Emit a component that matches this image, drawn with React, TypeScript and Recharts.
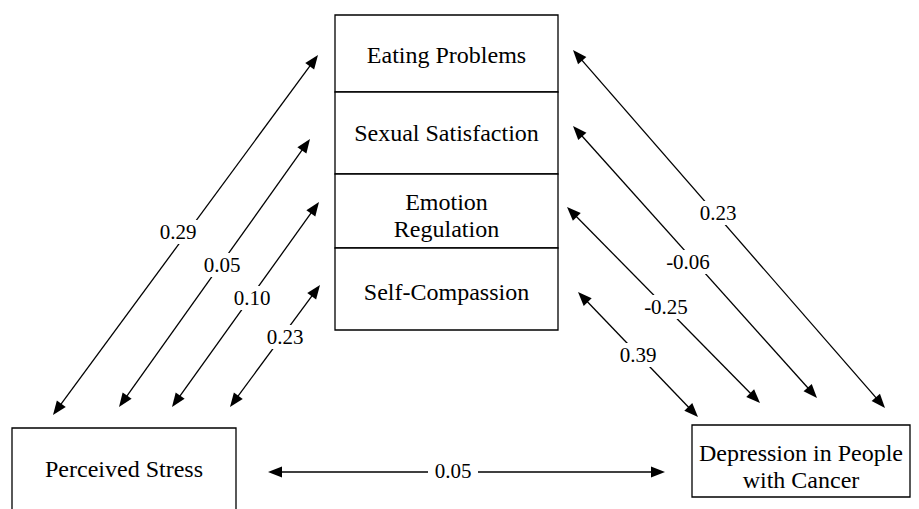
import { ReferenceArea, ReferenceLine, Scatter, ScatterChart, XAxis, YAxis } from "recharts";

// Variables and path coefficients
const mediators = ["Eating Problems", "Sexual Satisfaction", "Emotion\nRegulation", "Self-Compassion"];
const predictor = "Perceived Stress";
const outcome = "Depression in People\nwith Cancer";
const stressCoefs = ["0.29", "0.05", "0.10", "0.23"];
const depressionCoefs = ["0.23", "-0.06", "-0.25", "0.39"];
const directCoef = "0.05";

// Layout (diagram units = pixels of the 919x509 canvas)
const mediatorBands = [
  [15, 92],
  [92, 174],
  [174, 248],
  [248, 330],
];
const mediatorX = [335, 558];
const mediatorTextY = [55, 133, 215, 292];
const predictorBox = { x1: 12, x2: 236, y1: 428, y2: 515 };
const outcomeBox = { x1: 692, x2: 910, y1: 425, y2: 497 };
const predictorTextY = 469;
const outcomeTextY = 466;

const leftArrows = [
  [[53, 415], [318, 55]],
  [[119, 407], [310, 139]],
  [[172, 407], [319, 202]],
  [[230, 407], [320, 285]],
];
const leftLabelPos = [
  [178, 232],
  [222, 265],
  [252, 298],
  [285, 337],
];
const rightArrows = [
  [[573, 50], [885, 408]],
  [[573, 126], [817, 398]],
  [[567, 207], [760, 403]],
  [[578, 292], [698, 417]],
];
const rightLabelPos = [
  [718, 213],
  [688, 262],
  [666, 307],
  [638, 355],
];
const directArrow = [[268, 472], [665, 472]];
const directLabelPos = [453, 471];

const FONT = "Liberation Serif, serif";

const boxTexts = [
  ...mediators.map((name, i) => ({ x: (mediatorX[0] + mediatorX[1]) / 2, y: mediatorTextY[i], text: name })),
  { x: (predictorBox.x1 + predictorBox.x2) / 2, y: predictorTextY, text: predictor },
  { x: (outcomeBox.x1 + outcomeBox.x2) / 2, y: outcomeTextY, text: outcome },
];

const coefLabels = [
  ...stressCoefs.map((c, i) => ({ x: leftLabelPos[i][0], y: leftLabelPos[i][1], text: c })),
  ...depressionCoefs.map((c, i) => ({ x: rightLabelPos[i][0], y: rightLabelPos[i][1], text: c })),
  { x: directLabelPos[0], y: directLabelPos[1], text: directCoef },
];

const arrows = [...leftArrows, ...rightArrows, directArrow];

const ArrowShape = (props: any) => {
  const { x1, y1, x2, y2 } = props;
  const dx = x2 - x1;
  const dy = y2 - y1;
  const len = Math.hypot(dx, dy) || 1;
  const ux = dx / len;
  const uy = dy / len;
  const head = 14;
  const half = 5.5;
  const tri = (tx: number, ty: number, dx: number, dy: number) => {
    const bx = tx - dx * head;
    const by = ty - dy * head;
    return `${tx},${ty} ${bx - dy * half},${by + dx * half} ${bx + dy * half},${by - dx * half}`;
  };
  return (
    <g>
      <line
        x1={x1 + ux * head * 0.7}
        y1={y1 + uy * head * 0.7}
        x2={x2 - ux * head * 0.7}
        y2={y2 - uy * head * 0.7}
        stroke="#000"
        strokeWidth={1.3}
      />
      <polygon points={tri(x1, y1, -ux, -uy)} fill="#000" />
      <polygon points={tri(x2, y2, ux, uy)} fill="#000" />
    </g>
  );
};

const BoxText = (props: any) => {
  const { cx, cy, payload } = props;
  const lines = String(payload.text).split("\n");
  const lh = 27;
  const start = cy - ((lines.length - 1) * lh) / 2;
  return (
    <text textAnchor="middle" style={{ fontFamily: FONT, fontSize: 24 }} fill="#000">
      {lines.map((l, i) => (
        <tspan key={i} x={cx} y={start + i * lh + 8}>
          {l}
        </tspan>
      ))}
    </text>
  );
};

const CoefText = (props: any) => {
  const { cx, cy, payload } = props;
  const w = String(payload.text).length * 10.5 + 8;
  return (
    <g>
      <rect x={cx - w / 2} y={cy - 12} width={w} height={24} fill="#fff" />
      <text x={cx} y={cy + 7} textAnchor="middle" style={{ fontFamily: FONT, fontSize: 21 }} fill="#000">
        {payload.text}
      </text>
    </g>
  );
};

export default function App() {
  return (
    <div style={{ position: "absolute", left: 0, top: 0, background: "#fff", fontFamily: FONT }}>
      <ScatterChart width={919} height={509} margin={{ top: 0, right: 0, bottom: 0, left: 0 }}>
        <XAxis type="number" dataKey="x" domain={[0, 919]} hide allowDataOverflow />
        <YAxis type="number" dataKey="y" domain={[0, 509]} reversed hide allowDataOverflow />
        {mediatorBands.map(([a, b], i) => (
          <ReferenceArea
            key={`m${i}`}
            x1={mediatorX[0]}
            x2={mediatorX[1]}
            y1={a}
            y2={b}
            fill="#fff"
            fillOpacity={1}
            stroke="#000"
            strokeWidth={1.3}
            ifOverflow="visible"
          />
        ))}
        <ReferenceArea {...predictorBox} fill="#fff" fillOpacity={1} stroke="#000" strokeWidth={1.3} ifOverflow="visible" />
        <ReferenceArea {...outcomeBox} fill="#fff" fillOpacity={1} stroke="#000" strokeWidth={1.3} ifOverflow="visible" />
        {arrows.map(([a, b], i) => (
          <ReferenceLine
            key={`a${i}`}
            segment={[
              { x: a[0], y: a[1] },
              { x: b[0], y: b[1] },
            ]}
            shape={ArrowShape}
            ifOverflow="visible"
          />
        ))}
        <Scatter data={boxTexts} shape={BoxText} isAnimationActive={false} />
        <Scatter data={coefLabels} shape={CoefText} isAnimationActive={false} />
      </ScatterChart>
    </div>
  );
}
